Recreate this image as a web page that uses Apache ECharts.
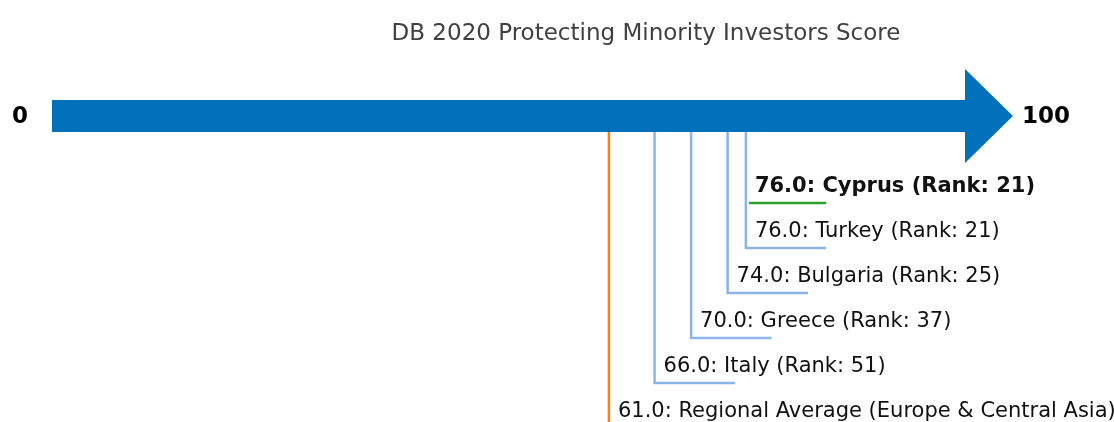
<!DOCTYPE html>
<html>
<head>
<meta charset="utf-8">
<script src="https://cdn.jsdelivr.net/npm/echarts@6/dist/echarts.min.js"></script>
<style>
  html, body { margin: 0; padding: 0; background: #fff; }
  #chart { width: 1114px; height: 422px; }
</style>
</head>
<body>
<div id="chart"></div>
<script>
const names = ["Cyprus", "Turkey", "Bulgaria", "Greece", "Italy", "Regional Average (Europe & Central Asia)"];
const scores = [76.0, 76.0, 74.0, 70.0, 66.0, 61.0];
const ranks = [21, 21, 25, 37, 51, null];
const rows = [1, 2, 3, 4, 5, 6];
const lineColors = ["#2ca02c", "#8ab4ea", "#8ab4ea", "#8ab4ea", "#8ab4ea", "#ff7f0e"];
const scaleMin = 0;
const scaleMax = 100;

const chart = echarts.init(document.getElementById("chart"), null, { renderer: "canvas" });

const ARROW_ROW = -0.933;
const SHAFT_HALF = 16;
const HEAD_HALF = 47;
const HEAD_LEN = 48;
const TAIL = 8.8;

const markers = scores.map((v, i) => ({
  value: [v, rows[i]],
  name: names[i],
  rank: ranks[i],
  color: lineColors[i],
  highlight: i === 0,
  average: ranks[i] === null,
}));

const option = {
  backgroundColor: "#fff",
  animation: false,
  title: {
    text: "DB 2020 Protecting Minority Investors Score",
    left: 641,
    textAlign: "center",
    top: 18,
    textStyle: {
      fontFamily: "DejaVu Sans",
      fontWeight: "normal",
      fontSize: 23,
      color: "#404040",
    },
  },
  grid: { left: 52, right: 149, top: 0, bottom: 0 },
  xAxis: { type: "value", min: scaleMin, max: scaleMax, show: false },
  yAxis: { type: "value", inverse: true, min: -158 / 45, max: 264 / 45, show: false },
  series: [
    {
      type: "custom",
      data: [[scaleMin, scaleMax]],
      renderItem: (params, api) => {
        const a = api.coord([api.value(0), ARROW_ROW]);
        const b = api.coord([api.value(1), ARROW_ROW]);
        const cy = a[1];
        return {
          type: "group",
          children: [
            {
              type: "polygon",
              shape: {
                points: [
                  [a[0], cy - SHAFT_HALF],
                  [b[0], cy - SHAFT_HALF],
                  [b[0], cy - HEAD_HALF],
                  [b[0] + HEAD_LEN, cy],
                  [b[0], cy + HEAD_HALF],
                  [b[0], cy + SHAFT_HALF],
                  [a[0], cy + SHAFT_HALF],
                ],
              },
              style: { fill: "#0171bc" },
            },
            {
              type: "text",
              style: {
                text: String(api.value(0)),
                x: a[0] - 24,
                y: cy + 1,
                align: "right",
                verticalAlign: "middle",
                font: "bold 23px 'DejaVu Sans'",
                fill: "#000",
              },
            },
            {
              type: "text",
              style: {
                text: String(api.value(1)),
                x: b[0] + HEAD_LEN + 9,
                y: cy + 1,
                align: "left",
                verticalAlign: "middle",
                font: "bold 23px 'DejaVu Sans'",
                fill: "#000",
              },
            },
          ],
        };
      },
    },
    {
      type: "custom",
      data: markers,
      renderItem: (params, api) => {
        const d = markers[params.dataIndex];
        const top = api.coord([d.value[0], ARROW_ROW]);
        const p = api.coord([d.value[0], d.value[1]]);
        const end = api.coord([d.value[0] + TAIL, d.value[1]]);
        const y0 = top[1] + SHAFT_HALF;
        const children = [];
        if (d.highlight) {
          children.push({
            type: "line",
            shape: { x1: p[0] + 3, y1: p[1], x2: end[0], y2: p[1] },
            style: { stroke: d.color, lineWidth: 2.5 },
          });
        } else if (d.average) {
          children.push({
            type: "line",
            shape: { x1: p[0], y1: y0, x2: p[0], y2: api.getHeight() },
            style: { stroke: d.color, lineWidth: 2.5 },
          });
        } else {
          children.push({
            type: "polyline",
            shape: { points: [[p[0], y0], [p[0], p[1]], [end[0], p[1]]] },
            style: { stroke: d.color, lineWidth: 2.5, fill: null },
          });
        }
        const label = d.value[0].toFixed(1) + ": " + d.name + (d.rank !== null ? " (Rank: " + d.rank + ")" : "");
        children.push({
          type: "text",
          style: {
            text: label,
            x: p[0] + 9,
            y: p[1] - 16.5,
            align: "left",
            verticalAlign: "middle",
            font: (d.highlight ? "bold " : "") + "21px 'DejaVu Sans'",
            fill: "#111",
          },
        });
        return { type: "group", children };
      },
    },
  ],
};

chart.setOption(option);
</script>
</body>
</html>
